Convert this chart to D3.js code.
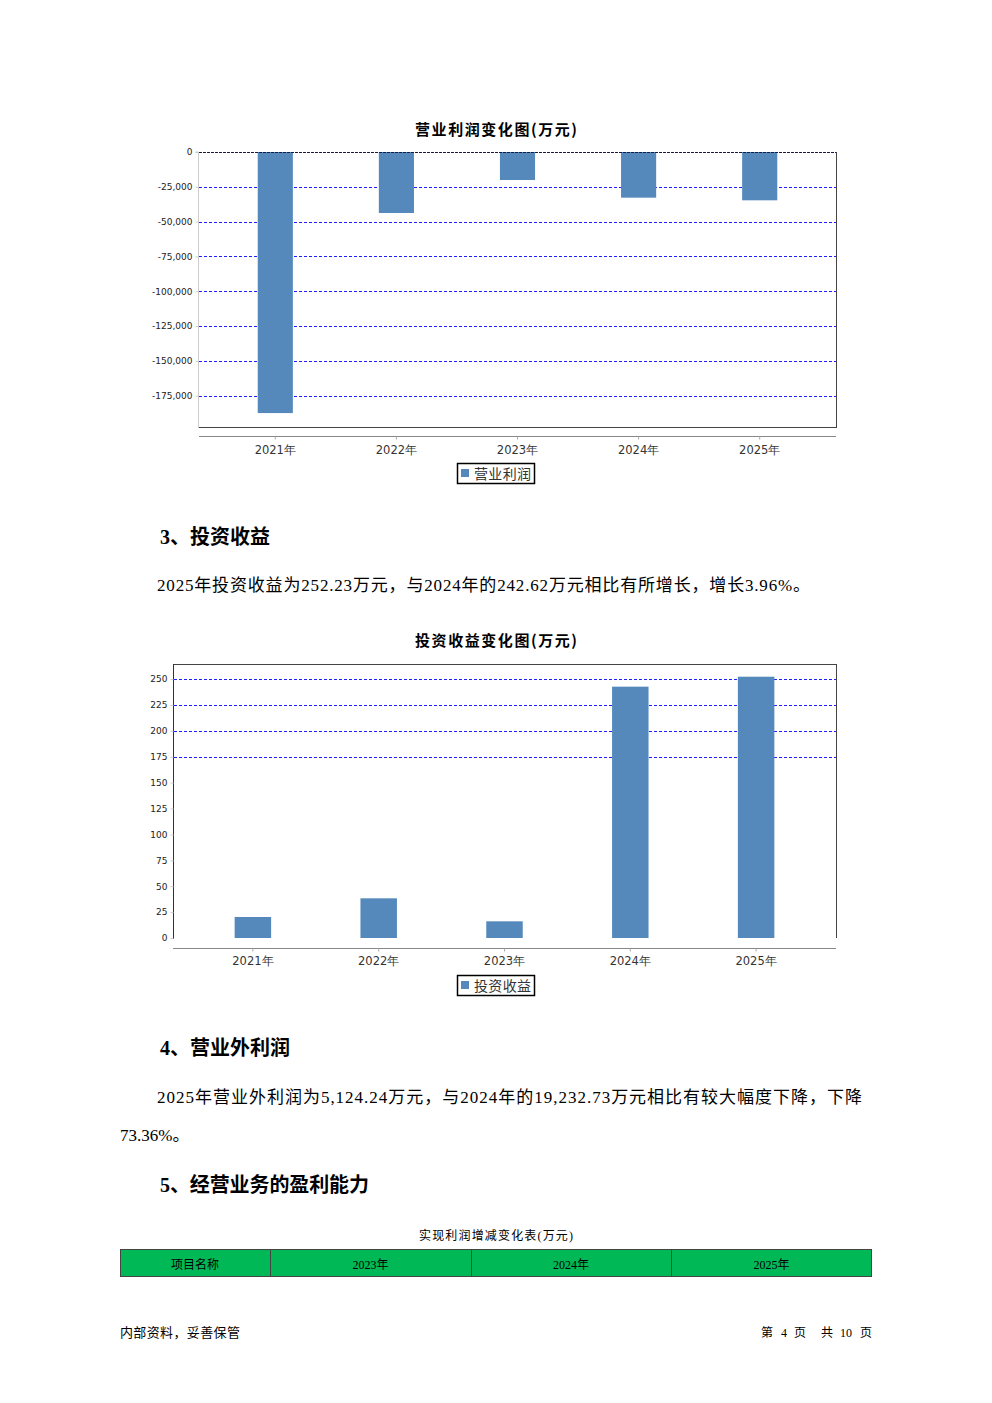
<!DOCTYPE html>
<html><head><meta charset="utf-8">
<script src="https://cdn.jsdelivr.net/npm/d3@7"></script>
<style>body{margin:0;background:#fff}svg{display:block}</style>
</head><body>
<script>
// ---- data ----
const years = ["2021年","2022年","2023年","2024年","2025年"];
const opProfit = [-187500, -43800, -20100, -32800, -34700];
const opTicks = [0,-25000,-50000,-75000,-100000,-125000,-150000,-175000];
const invIncome = [20.3, 38.3, 16.1, 242.62, 252.23];
const invTicks = [0,25,50,75,100,125,150,175,200,225,250];
const invGridTicks = [175,200,225,250];
const tableHead = ["项目名称","2023年","2024年","2025年"];

const W=992,H=1403;
const svg=d3.select("body").append("svg").attr("width",W).attr("height",H);
const BAR="#5589bc", GRID="#2020ff";
const bodyFont="'Liberation Serif','Noto Sans CJK SC',serif";
const cjk="'Noto Sans CJK SC',sans-serif";
const axisFont="'DejaVu Sans',sans-serif";
const fmt=d=>d3.format(",")(d).replace("−","-");

function txt(x,y,s,opt={}){
  const t=svg.append("text").attr("x",x).attr("y",y).text(s)
   .attr("font-family",opt.family||bodyFont).attr("font-size",opt.size||16)
   .attr("font-weight",opt.weight||"normal").attr("fill",opt.fill||"#000")
   .attr("text-anchor",opt.anchor||"start");
  if(opt.len) t.attr("textLength",opt.len).attr("lengthAdjust","spacing");
  return t;
}
function grid(g,ticks,y,L,R){
  g.selectAll(null).data(ticks).join("line")
   .attr("x1",L).attr("x2",R).attr("y1",d=>Math.round(y(d))+0.5).attr("y2",d=>Math.round(y(d))+0.5)
   .attr("stroke",GRID).attr("stroke-width",1).attr("stroke-dasharray","3,2").attr("shape-rendering","crispEdges");
}

// ---- chart 1: 营业利润 ----
(function(){
  const L=199,R=836,T=152,B=427,AX=436;
  const x=d3.scaleBand().domain(years).range([L,R]).paddingInner(0.71).paddingOuter(0.485);
  const y=d3.scaleLinear().domain([-197500,0]).range([B,T]);
  txt(496,135,"营业利润变化图(万元)",{family:cjk,size:15,weight:"bold",anchor:"middle",len:162});
  const g=svg.append("g");
  grid(g,opTicks.filter(d=>d!==0),y,L,R);
  g.selectAll("rect.bar").data(opProfit).join("rect")
   .attr("x",(d,i)=>x(years[i])).attr("width",x.bandwidth())
   .attr("y",y(0)).attr("height",d=>y(d)-y(0)).attr("fill",BAR);
  g.append("line").attr("x1",L).attr("x2",R).attr("y1",T+0.5).attr("y2",T+0.5).attr("stroke","#1a1a40").attr("stroke-dasharray","3,1");
  g.append("line").attr("x1",R+0.5).attr("x2",R+0.5).attr("y1",T).attr("y2",B).attr("stroke","#444");
  g.append("line").attr("x1",L).attr("x2",R+1).attr("y1",B+0.5).attr("y2",B+0.5).attr("stroke","#444");
  const ya=svg.append("g").attr("transform",`translate(${L-0.5},0)`)
   .call(d3.axisLeft(y).tickValues(opTicks).tickSize(3).tickPadding(3).tickFormat(fmt));
  ya.select(".domain").attr("stroke","#ccc").attr("d",`M-3,${T}H0V${B+1}`);
  ya.selectAll(".tick line").attr("stroke","#ccc");
  ya.selectAll("text").attr("font-family",axisFont).attr("font-size",9).attr("fill","#222");
  const xa=svg.append("g").attr("transform",`translate(0,${AX+0.5})`)
   .call(d3.axisBottom(x).tickSize(3).tickPadding(6));
  xa.select(".domain").attr("stroke","#888").attr("d",`M${L},0H${R}`);
  xa.selectAll(".tick line").attr("stroke","#aaa");
  xa.selectAll("text").attr("font-family",axisFont).attr("font-size",11.5).attr("fill","#333");
  svg.append("rect").attr("x",457.5).attr("y",463.5).attr("width",77).attr("height",20).attr("fill","#fff").attr("stroke","#000").attr("stroke-width",1.5);
  svg.append("rect").attr("x",461).attr("y",469).attr("width",8).attr("height",8).attr("fill",BAR);
  txt(474,479,"营业利润",{family:cjk,size:14,fill:"#333",len:57});
})();

// ---- text block ----
txt(160,544,"3、投资收益",{size:20,weight:"bold",len:110});
txt(157,591,"2025年投资收益为252.23万元，与2024年的242.62万元相比有所增长，增长3.96%。",{size:17,len:653});

// ---- chart 2: 投资收益 ----
(function(){
  const L=173,R=836,T=664,B=938,AX=948;
  const x=d3.scaleBand().domain(years).range([L,R]).paddingInner(0.71).paddingOuter(0.49);
  const y=d3.scaleLinear().domain([0,264.5]).range([B,T]);
  txt(496,646,"投资收益变化图(万元)",{family:cjk,size:15,weight:"bold",anchor:"middle",len:162});
  const g=svg.append("g");
  grid(g,invGridTicks,y,L+1,R);
  g.selectAll("rect.bar").data(invIncome).join("rect")
   .attr("x",(d,i)=>x(years[i])).attr("width",x.bandwidth())
   .attr("y",d=>y(d)).attr("height",d=>y(0)-y(d)).attr("fill",BAR);
  g.append("line").attr("x1",L).attr("x2",R+1).attr("y1",T+0.5).attr("y2",T+0.5).attr("stroke","#444");
  g.append("line").attr("x1",R+0.5).attr("x2",R+0.5).attr("y1",T).attr("y2",B).attr("stroke","#444");
  const ya=svg.append("g").attr("transform",`translate(${L+0.5},0)`)
   .call(d3.axisLeft(y).tickValues(invTicks).tickSize(3).tickPadding(3));
  ya.select(".domain").attr("stroke","#333").attr("d",`M0,${T}V${B+1}`);
  ya.selectAll(".tick line").attr("stroke","#ccc");
  ya.selectAll("text").attr("font-family",axisFont).attr("font-size",9).attr("fill","#222");
  const xa=svg.append("g").attr("transform",`translate(0,${AX+0.5})`)
   .call(d3.axisBottom(x).tickSize(3).tickPadding(5));
  xa.select(".domain").attr("stroke","#888").attr("d",`M${L},0H${R}`);
  xa.selectAll(".tick line").attr("stroke","#aaa");
  xa.selectAll("text").attr("font-family",axisFont).attr("font-size",11.5).attr("fill","#333");
  svg.append("rect").attr("x",457.5).attr("y",975.5).attr("width",77).attr("height",20).attr("fill","#fff").attr("stroke","#000").attr("stroke-width",1.5);
  svg.append("rect").attr("x",461).attr("y",981).attr("width",8).attr("height",8).attr("fill",BAR);
  txt(474,991,"投资收益",{family:cjk,size:14,fill:"#333",len:57});
})();

txt(160,1055,"4、营业外利润",{size:20,weight:"bold",len:130});
txt(157,1103,"2025年营业外利润为5,124.24万元，与2024年的19,232.73万元相比有较大幅度下降，下降",{size:17,len:705});
txt(120,1141,"73.36%。",{size:17});
txt(160,1192,"5、经营业务的盈利能力",{size:20,weight:"bold",len:209});

// ---- table ----
txt(496,1240,"实现利润增减变化表(万元)",{size:12,anchor:"middle",len:154});
const colEdges=[120,270,471,671,872];
const tg=svg.append("g");
tg.append("rect").attr("x",120.5).attr("y",1249.5).attr("width",751).attr("height",27).attr("fill","#00b956").attr("stroke","#444");
colEdges.slice(1,-1).forEach(cx=>tg.append("line").attr("x1",cx+0.5).attr("x2",cx+0.5).attr("y1",1249.5).attr("y2",1276.5).attr("stroke","#444"));
tableHead.forEach((h,i)=>txt((colEdges[i]+colEdges[i+1])/2,1269,h,{size:12,anchor:"middle"}));

// ---- footer ----
txt(120,1337,"内部资料，妥善保管",{size:13,len:120});
txt(761,1337,"第",{size:12});
txt(784,1337,"4",{size:12,anchor:"middle"});
txt(794,1337,"页",{size:12});
txt(821,1337,"共",{size:12});
txt(846,1337,"10",{size:12,anchor:"middle"});
txt(860,1337,"页",{size:12});
</script>
</body></html>
